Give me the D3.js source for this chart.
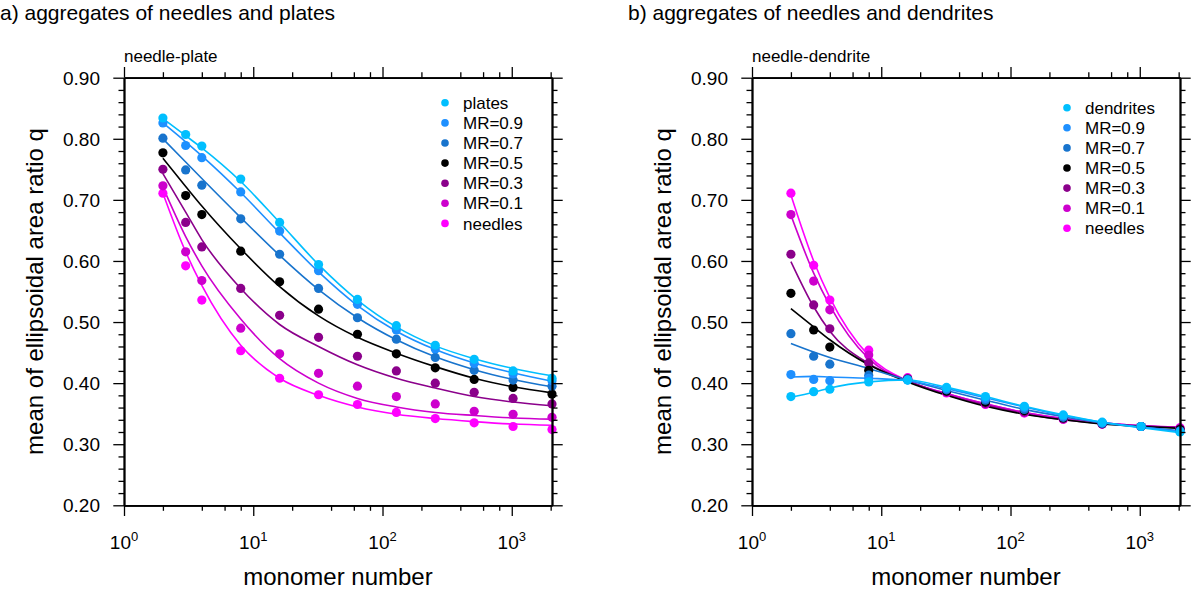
<!DOCTYPE html>
<html>
<head>
<meta charset="utf-8">
<script src="https://cdn.jsdelivr.net/npm/d3@7"></script>
<style>
  body { margin: 0; background: #fff; }
  svg { display: block; font-family: "Liberation Sans", Arial, Helvetica, sans-serif; }
</style>
</head>
<body>
<div id="chart"></div>
<script>
// --- DATA ---
const monomers = [2, 3, 4, 8, 16, 32, 64, 128, 256, 512, 1024, 2048];

const plateLabels = ["plates", "MR=0.9", "MR=0.7", "MR=0.5", "MR=0.3", "MR=0.1", "needles"];
const dendriteLabels = ["dendrites", "MR=0.9", "MR=0.7", "MR=0.5", "MR=0.3", "MR=0.1", "needles"];
const seriesColors = ["#00bfff", "#1e90ff", "#1874cd", "#000000", "#8b008b", "#cd00cd", "#ff00ff"];

// a) needle-plate, dots (one row per legend entry)
const plateDots = [
  [0.834, 0.807, 0.788, 0.734, 0.663, 0.594, 0.537, 0.494, 0.462, 0.439, 0.420, 0.408],
  [0.826, 0.789, 0.769, 0.713, 0.649, 0.584, 0.529, 0.487, 0.456, 0.432, 0.415, 0.404],
  [0.801, 0.749, 0.724, 0.669, 0.611, 0.555, 0.507, 0.472, 0.442, 0.421, 0.405, 0.395],
  [0.777, 0.707, 0.676, 0.616, 0.566, 0.521, 0.480, 0.448, 0.425, 0.406, 0.393, 0.382],
  [0.750, 0.663, 0.623, 0.555, 0.511, 0.475, 0.444, 0.420, 0.400, 0.385, 0.375, 0.366],
  [0.723, 0.615, 0.568, 0.490, 0.448, 0.416, 0.395, 0.378, 0.366, 0.354, 0.349, 0.344],
  [0.711, 0.592, 0.536, 0.453, 0.408, 0.381, 0.365, 0.352, 0.342, 0.335, 0.329, 0.324]
];
// a) fitted curves read at the same monomer numbers
const plateFits = [
  [0.833, 0.805, 0.785, 0.730, 0.663, 0.594, 0.536, 0.492, 0.461, 0.440, 0.424, 0.412],
  [0.826, 0.795, 0.772, 0.712, 0.646, 0.582, 0.527, 0.485, 0.455, 0.433, 0.417, 0.403],
  [0.800, 0.762, 0.735, 0.671, 0.609, 0.553, 0.507, 0.471, 0.443, 0.422, 0.406, 0.394],
  [0.768, 0.722, 0.690, 0.620, 0.558, 0.510, 0.475, 0.449, 0.427, 0.408, 0.394, 0.384],
  [0.743, 0.680, 0.635, 0.555, 0.496, 0.460, 0.430, 0.408, 0.392, 0.378, 0.369, 0.363],
  [0.721, 0.640, 0.592, 0.505, 0.440, 0.400, 0.375, 0.361, 0.352, 0.347, 0.343, 0.341],
  [0.711, 0.615, 0.560, 0.462, 0.408, 0.380, 0.361, 0.349, 0.342, 0.337, 0.333, 0.331]
];

// b) needle-dendrite, dots
const dendriteDots = [
  [0.378, 0.386, 0.390, 0.402, 0.405, 0.393, 0.378, 0.362, 0.348, 0.336, 0.329, 0.320],
  [0.414, 0.406, 0.404, 0.408, 0.405, 0.391, 0.375, 0.360, 0.346, 0.335, 0.329, 0.321],
  [0.481, 0.444, 0.431, 0.413, 0.406, 0.389, 0.372, 0.357, 0.344, 0.334, 0.329, 0.322],
  [0.547, 0.487, 0.459, 0.421, 0.406, 0.387, 0.369, 0.355, 0.343, 0.334, 0.329, 0.324],
  [0.611, 0.528, 0.489, 0.433, 0.407, 0.386, 0.367, 0.353, 0.342, 0.333, 0.329, 0.325],
  [0.676, 0.567, 0.520, 0.446, 0.408, 0.385, 0.366, 0.352, 0.341, 0.333, 0.329, 0.326],
  [0.711, 0.593, 0.536, 0.454, 0.409, 0.384, 0.365, 0.351, 0.341, 0.333, 0.329, 0.327]
];
// b) fitted curves
const dendriteFits = [
  [0.377, 0.385, 0.392, 0.402, 0.405, 0.393, 0.378, 0.362, 0.348, 0.336, 0.327, 0.319],
  [0.410, 0.411, 0.410, 0.408, 0.404, 0.391, 0.376, 0.361, 0.347, 0.336, 0.328, 0.321],
  [0.465, 0.451, 0.442, 0.424, 0.405, 0.388, 0.372, 0.357, 0.345, 0.335, 0.328, 0.322],
  [0.522, 0.492, 0.471, 0.430, 0.402, 0.380, 0.362, 0.349, 0.340, 0.333, 0.329, 0.326],
  [0.599, 0.525, 0.485, 0.432, 0.404, 0.381, 0.364, 0.350, 0.340, 0.334, 0.330, 0.327],
  [0.675, 0.580, 0.527, 0.440, 0.403, 0.383, 0.366, 0.352, 0.342, 0.335, 0.330, 0.328],
  [0.708, 0.600, 0.540, 0.445, 0.404, 0.383, 0.366, 0.352, 0.342, 0.335, 0.330, 0.328]
];

const yMajor = [0.2, 0.3, 0.4, 0.5, 0.6, 0.7, 0.8, 0.9];
const yMinor = d3.range(0.22, 0.9, 0.02).filter(v => Math.abs(v * 10 - Math.round(v * 10)) > 0.01);
const xMajor = [1, 10, 100, 1000];
const xMinor = [2, 4, 6, 8, 20, 40, 60, 80, 200, 400, 600, 800, 2000];

// --- LAYOUT ---
const W = 1200, H = 592;
const plotW = 428, plotH = 427.6, plotTop = 77.7;
const majorLen = 10.7, minorLen = 5.5;

const svg = d3.select("#chart").append("svg").attr("width", W).attr("height", H);

function drawPanel(cfg) {
  const x = d3.scaleLog().domain([1, 2048]).range([cfg.left, cfg.left + plotW]);
  const y = d3.scaleLinear().domain([0.2, 0.9]).range([plotTop + plotH, plotTop]);
  const g = svg.append("g");

  // Fit lines (reverse order so first legend entry is on top)
  const line = d3.line().x(d => x(d[0])).y(d => y(d[1])).curve(d3.curveMonotoneX);
  for (let i = cfg.fits.length - 1; i >= 0; i--) {
    g.append("path")
      .datum(monomers.map((m, j) => [m, cfg.fits[i][j]]))
      .attr("fill", "none").attr("stroke", seriesColors[i]).attr("stroke-width", 1.6)
      .attr("d", line);
  }
  // Dots
  for (let i = cfg.dots.length - 1; i >= 0; i--) {
    g.selectAll(null).data(monomers.map((m, j) => [m, cfg.dots[i][j]]))
      .enter().append("circle")
      .attr("cx", d => x(d[0])).attr("cy", d => y(d[1])).attr("r", 4.6)
      .attr("fill", seriesColors[i]);
  }

  // Axes: four sides, ticks outward
  const bottom = g.append("g").attr("transform", `translate(0,${plotTop + plotH})`)
    .call(d3.axisBottom(x).tickValues(xMajor).tickSize(majorLen).tickSizeOuter(0).tickFormat(""));
  const top = g.append("g").attr("transform", `translate(0,${plotTop})`)
    .call(d3.axisTop(x).tickValues(xMajor).tickSize(majorLen).tickSizeOuter(0).tickFormat(""));
  g.append("g").attr("transform", `translate(0,${plotTop + plotH})`)
    .call(d3.axisBottom(x).tickValues(xMinor).tickSize(minorLen).tickSizeOuter(0).tickFormat(""));
  g.append("g").attr("transform", `translate(0,${plotTop})`)
    .call(d3.axisTop(x).tickValues(xMinor).tickSize(minorLen).tickSizeOuter(0).tickFormat(""));
  g.append("g").attr("transform", `translate(${cfg.left},0)`)
    .call(d3.axisLeft(y).tickValues(yMajor).tickSize(majorLen).tickSizeOuter(0).tickFormat(""));
  g.append("g").attr("transform", `translate(${cfg.left + plotW},0)`)
    .call(d3.axisRight(y).tickValues(yMajor).tickSize(majorLen).tickSizeOuter(0).tickFormat(""));
  g.append("g").attr("transform", `translate(${cfg.left},0)`)
    .call(d3.axisLeft(y).tickValues(yMinor).tickSize(minorLen).tickSizeOuter(0).tickFormat(""));
  g.append("g").attr("transform", `translate(${cfg.left + plotW},0)`)
    .call(d3.axisRight(y).tickValues(yMinor).tickSize(minorLen).tickSizeOuter(0).tickFormat(""));
  g.selectAll(".domain").attr("stroke", "#000").attr("stroke-width", 1.8);
  g.selectAll(".tick line").attr("stroke", "#000").attr("stroke-width", 1.3);

  // Y tick labels
  g.selectAll(null).data(yMajor).enter().append("text")
    .attr("x", cfg.left - 24).attr("y", d => y(d)).attr("dy", "0.36em")
    .attr("text-anchor", "end").attr("font-size", 19)
    .text(d => d3.format(".2f")(d));

  // X tick labels 10^n
  const xl = g.selectAll(null).data(xMajor).enter().append("text")
    .attr("x", d => x(d)).attr("y", 549).attr("text-anchor", "middle").attr("font-size", 19);
  xl.append("tspan").text("10");
  xl.append("tspan").attr("font-size", 13).attr("dy", -8).text(d => Math.round(Math.log10(d)));

  // Axis titles
  g.append("text").attr("x", cfg.left + plotW / 2).attr("y", 585)
    .attr("text-anchor", "middle").attr("font-size", 24).text("monomer number");
  g.append("text").attr("transform", `translate(${cfg.left - 81},${plotTop + plotH / 2}) rotate(-90)`)
    .attr("text-anchor", "middle").attr("font-size", 24).text("mean of ellipsoidal area ratio q");

  // Panel titles
  g.append("text").attr("x", cfg.titleX).attr("y", 20).attr("font-size", 21).text(cfg.title);
  g.append("text").attr("x", cfg.left).attr("y", 62).attr("font-size", 17).text(cfg.subtitle);

  // Legend
  cfg.labels.forEach((lab, i) => {
    const ly = cfg.legendY + i * 20.1;
    g.append("circle").attr("cx", cfg.legendX).attr("cy", ly).attr("r", 3.8).attr("fill", seriesColors[i]);
    g.append("text").attr("x", cfg.legendX + 18).attr("y", ly).attr("dy", "0.36em")
      .attr("font-size", 17).text(lab);
  });
}

drawPanel({
  left: 124, dots: plateDots, fits: plateFits, labels: plateLabels,
  title: "a) aggregates of needles and plates", titleX: 0, subtitle: "needle-plate",
  legendX: 445, legendY: 102.8
});
drawPanel({
  left: 752, dots: dendriteDots, fits: dendriteFits, labels: dendriteLabels,
  title: "b) aggregates of needles and dendrites", titleX: 628, subtitle: "needle-dendrite",
  legendX: 1067, legendY: 107.7
});
</script>
</body>
</html>
